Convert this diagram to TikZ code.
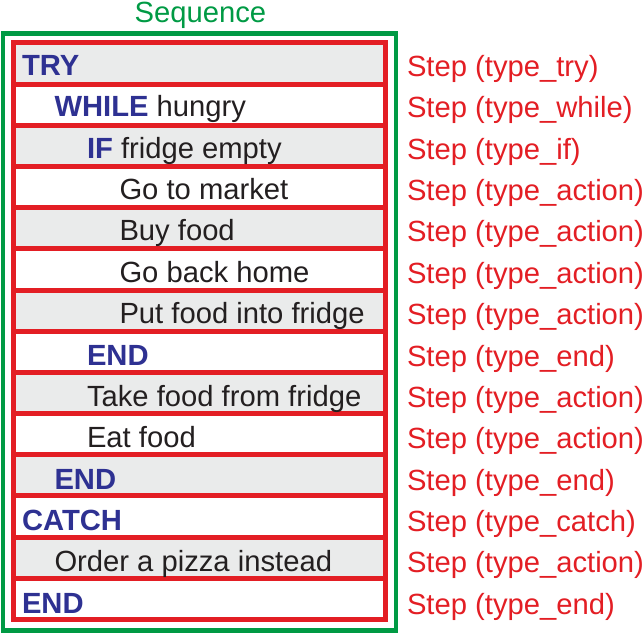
\documentclass[tikz,border=0pt]{standalone}
\usepackage{fontspec}
\setmainfont{Liberation Sans}
\definecolor{seqgreen}{RGB}{0,154,68}
\definecolor{stepred}{RGB}{227,30,36}
\definecolor{rowgray}{RGB}{234,235,235}
\definecolor{kwblue}{RGB}{46,49,146}
\definecolor{txtdark}{RGB}{35,31,32}
\tikzset{
  rowbox/.style={draw=stepred, line width=5pt, minimum width=371.5pt, minimum height=41.18pt, inner sep=0pt, outer sep=0pt},
  grayrow/.style={rowbox, fill=rowgray},
  whiterow/.style={rowbox, fill=white},
  seqbox/.style={draw=seqgreen, line width=4.5pt},
  big/.style={font=\fontsize{29.2}{34}\selectfont, inner sep=0pt, outer sep=0pt, anchor=base west},
  code/.style={big, text=txtdark},
  lbl/.style={big, text=stepred}
}
\newcommand{\kwd}[1]{{\bfseries\color{kwblue}#1}}
\begin{document}
\begin{tikzpicture}[x=1pt,y=-1pt]
\useasboundingbox (0,0) rectangle (644,636);
\draw[seqbox] (3,33.5) rectangle (396,630.5);
\node[big, anchor=base, text=seqgreen] (seqtitle) at (200.5,22.8) {Sequence};
% rows
\foreach \i/\st in {0/grayrow,1/whiterow,2/grayrow,3/whiterow,4/grayrow,5/whiterow,6/grayrow,7/whiterow,8/grayrow,9/whiterow,10/grayrow,11/whiterow,12/grayrow,13/whiterow}{
  \node[\st] (r\i) at (199.25,{43+41.18*(\i+0.5)}) {};
}
% code texts
\node[code] (t0)  at (22,75.5) {\kwd{TRY}};
\node[code] (t1)  at (54.5,{75.5+41.36*1}) {\kwd{WHILE} hungry};
\node[code] (t2)  at (87,{75.5+41.36*2}) {\kwd{IF} fridge empty};
\node[code] (t3)  at (119.5,{75.5+41.36*3}) {Go to market};
\node[code] (t4)  at (119.5,{75.5+41.36*4}) {Buy food};
\node[code] (t5)  at (119.5,{75.5+41.36*5}) {Go back home};
\node[code] (t6)  at (119.5,{75.5+41.36*6}) {Put food into fridge};
\node[code] (t7)  at (87,{75.5+41.36*7}) {\kwd{END}};
\node[code] (t8)  at (87,{75.5+41.36*8}) {Take food from fridge};
\node[code] (t9)  at (87,{75.5+41.36*9}) {Eat food};
\node[code] (t10) at (54.5,{75.5+41.36*10}) {\kwd{END}};
\node[code] (t11) at (22,{75.5+41.36*11}) {\kwd{CATCH}};
\node[code] (t12) at (54.5,{75.5+41.36*12}) {Order a pizza instead};
\node[code] (t13) at (22,{75.5+41.36*13}) {\kwd{END}};
% labels
\foreach \i/\t in {0/try,1/while,2/if,3/action,4/action,5/action,6/action,7/end,8/action,9/action,10/end,11/catch,12/action,13/end}{
  \node[lbl] (l\i) at (407,{76.5+41.36*\i}) {Step (type\_\t)};
}
\end{tikzpicture}
\end{document}
